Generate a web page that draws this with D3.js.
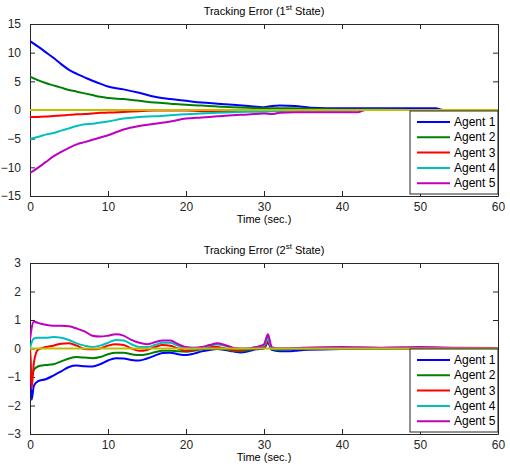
<!DOCTYPE html>
<html>
<head>
<meta charset="utf-8">
<script src="https://cdn.jsdelivr.net/npm/d3@7"></script>
<style>
  body { margin: 0; background: #fff; }
  svg { display: block; }
</style>
</head>
<body>
<div id="chart"></div>
<script>
// data
const agentNames = ["Agent 1", "Agent 2", "Agent 3", "Agent 4", "Agent 5"];
const xTicks = [0, 10, 20, 30, 40, 50, 60];
const yTicksTop = [-15, -10, -5, 0, 5, 10, 15];
const yTicksBottom = [-3, -2, -1, 0, 1, 2, 3];

// 1st state
const tTop = [0, 1, 2, 3, 4, 5, 6, 7, 8, 9, 10, 12, 14, 16, 18, 20, 22, 24, 26, 28, 30, 31, 32, 34, 36, 40, 42, 43, 45, 50, 52, 53, 55, 60];
const agent1Top = [12, 11.1, 10.1, 9.1, 8.0, 7.0, 6.3, 5.7, 5.1, 4.6, 4.1, 3.6, 3.0, 2.3, 1.9, 1.6, 1.3, 1.1, 0.9, 0.7, 0.5, 0.7, 0.8, 0.7, 0.4, 0.3, 0.3, 0.3, 0.3, 0.3, 0.3, 0, 0, 0];
const agent2Top = [5.8, 5.2, 4.7, 4.3, 3.9, 3.5, 3.2, 2.9, 2.6, 2.3, 2.1, 1.9, 1.6, 1.3, 1.1, 0.9, 0.8, 0.6, 0.5, 0.4, 0.3, 0.3, 0.3, 0.3, 0.2, 0.1, 0.1, 0.1, 0.1, 0, 0, 0, 0, 0];
const agent3Top = [-1.2, -1.2, -1.15, -1.05, -0.95, -0.85, -0.75, -0.7, -0.6, -0.5, -0.45, -0.35, -0.2, -0.1, -0.1, -0.1, -0.2, -0.2, -0.2, -0.15, -0.1, -0.05, 0, 0, 0, 0, 0, 0, 0, 0, 0, 0, 0, 0];
const agent4Top = [-5.0, -4.7, -4.3, -4.0, -3.6, -3.2, -2.8, -2.5, -2.4, -2.2, -2.0, -1.5, -1.2, -1.1, -0.9, -0.75, -0.6, -0.5, -0.4, -0.3, -0.3, -0.2, -0.2, -0.1, -0.1, -0.1, -0.05, 0, 0, 0, 0, 0, 0, 0];
const agent5Top = [-11, -10.1, -9.1, -8.1, -7.3, -6.6, -6.0, -5.6, -5.2, -4.8, -4.4, -3.4, -2.8, -2.4, -2.0, -1.5, -1.3, -1.1, -0.9, -0.8, -0.6, -0.7, -0.5, -0.4, -0.4, -0.4, -0.4, 0, 0, 0, 0, 0, 0, 0];

// 2nd state
const tBottom = [0, 0.2, 0.5, 1, 2, 3, 4, 5, 6, 7, 8, 9, 10, 11, 12, 13, 14, 15, 16, 17, 18, 19, 20, 21, 22, 23, 24, 25, 26, 27, 28, 29, 30, 30.5, 31, 32, 33, 34, 35, 40, 45, 50, 55, 60];
const agent1Bottom = [0, -1.8, -1.3, -1.15, -1.08, -0.95, -0.8, -0.65, -0.6, -0.62, -0.63, -0.55, -0.42, -0.34, -0.35, -0.4, -0.42, -0.35, -0.25, -0.16, -0.15, -0.2, -0.23, -0.18, -0.1, -0.05, -0.02, -0.05, -0.1, -0.14, -0.1, -0.03, 0, 0.2, -0.05, -0.1, -0.1, -0.08, -0.05, -0.02, 0, 0, 0, 0];
const agent2Bottom = [0, -1.0, -0.75, -0.63, -0.58, -0.55, -0.45, -0.35, -0.3, -0.32, -0.34, -0.3, -0.2, -0.15, -0.15, -0.2, -0.23, -0.2, -0.13, -0.08, -0.08, -0.1, -0.11, -0.08, -0.03, 0, 0, -0.03, -0.08, -0.1, -0.05, 0, 0.02, 0.4, -0.02, -0.05, -0.03, -0.02, 0, 0, 0, 0, 0, 0];
const agent3Bottom = [0, -1.4, -0.5, -0.05, 0.05, 0.1, 0.17, 0.18, 0.1, -0.02, -0.03, 0, 0.1, 0.15, 0.12, 0, -0.08, -0.05, 0.05, 0.12, 0.1, 0, -0.08, -0.05, 0, 0.05, 0.05, 0, -0.05, -0.06, -0.02, 0.02, 0.05, 0.25, -0.02, 0, 0, 0, 0, 0, 0, 0, 0, 0];
const agent4Bottom = [0, 0.2, 0.35, 0.38, 0.38, 0.4, 0.38, 0.3, 0.18, 0.1, 0.05, 0.1, 0.2, 0.3, 0.28, 0.15, 0.05, 0.05, 0.12, 0.2, 0.2, 0.1, 0, -0.02, 0.03, 0.1, 0.14, 0.1, 0.02, -0.02, 0, 0.05, 0.1, 0.35, 0, -0.02, 0, 0, 0, 0, 0, 0, 0, 0];
const agent5Bottom = [0.3, 0.7, 0.95, 0.9, 0.83, 0.8, 0.8, 0.78, 0.7, 0.6, 0.45, 0.42, 0.45, 0.5, 0.45, 0.3, 0.2, 0.15, 0.22, 0.28, 0.28, 0.15, 0.05, 0.03, 0.05, 0.12, 0.18, 0.12, 0.03, 0, 0, 0.05, 0.15, 0.5, 0.05, 0, 0, 0.02, 0.03, 0.05, 0.03, 0.05, 0.03, 0.02];

const agentColors = ["#0000ff", "#008000", "#ff0000", "#00bfbf", "#bf00bf"];
const refColor = "#bfbf00";

const W = 510, H = 466;
const svg = d3.select("#chart").append("svg")
    .attr("width", W)
    .attr("height", H)
    .attr("style", "font-family: 'Liberation Sans', Arial, sans-serif;");

function drawPanel(cfg) {
    const x = d3.scaleLinear().domain([0, 60]).range([cfg.left, cfg.right]);
    const y = d3.scaleLinear().domain(cfg.yDomain).range([cfg.bottom, cfg.top]);
    const fmt = d3.format("d");

    const g = svg.append("g");

    g.append("clipPath").attr("id", cfg.id + "-clip")
      .append("rect")
        .attr("x", cfg.left).attr("y", cfg.top)
        .attr("width", cfg.right - cfg.left).attr("height", cfg.bottom - cfg.top);

    // axes: ticks point inward, box on all four sides
    const axisStyle = sel => {
        sel.attr("font-family", null);
        sel.select(".domain").attr("stroke", "#262626");
        sel.selectAll(".tick line").attr("stroke", "#262626");
        sel.selectAll(".tick text").attr("fill", "#262626").style("font-size", "12px");
    };

    g.append("g")
        .attr("transform", `translate(0,${cfg.bottom})`)
        .call(d3.axisBottom(x).tickValues(xTicks).tickFormat(fmt).tickSizeInner(-5).tickSizeOuter(0).tickPadding(6))
        .call(axisStyle);

    g.append("g")
        .attr("transform", `translate(0,${cfg.top})`)
        .call(d3.axisTop(x).tickValues(xTicks).tickSizeInner(-5).tickSizeOuter(0).tickFormat(""))
        .call(axisStyle);

    g.append("g")
        .attr("transform", `translate(${cfg.left},0)`)
        .call(d3.axisLeft(y).tickValues(cfg.yTicks).tickFormat(fmt).tickSizeInner(-5).tickSizeOuter(0).tickPadding(9))
        .call(axisStyle);

    g.append("g")
        .attr("transform", `translate(${cfg.right},0)`)
        .call(d3.axisRight(y).tickValues(cfg.yTicks).tickSizeInner(-5).tickSizeOuter(0).tickFormat(""))
        .call(axisStyle);

    const line = d3.line()
        .x(d => x(d[0]))
        .y(d => y(d[1]))
        .curve(d3.curveMonotoneX);

    const lines = g.append("g").attr("clip-path", `url(#${cfg.id}-clip)`);

    cfg.series.forEach((vals, i) => {
        lines.append("path")
            .datum(cfg.t.map((t, j) => [t, vals[j]]))
            .attr("fill", "none")
            .attr("stroke", agentColors[i])
            .attr("stroke-width", 2)
            .attr("stroke-linejoin", "round")
            .attr("d", line);
    });

    // reference (zero) line, drawn on top
    lines.append("path")
        .datum([[0, 0], [60, 0]])
        .attr("fill", "none")
        .attr("stroke", refColor)
        .attr("stroke-width", 2)
        .attr("d", line);

    // title with superscript
    const title = g.append("text")
        .attr("x", (cfg.left + cfg.right) / 2)
        .attr("y", cfg.top - 9)
        .attr("text-anchor", "middle")
        .attr("fill", "#000")
        .style("font-size", "11px");
    title.append("tspan").text(`Tracking Error (${cfg.num}`);
    title.append("tspan").text("st").attr("dy", -5).style("font-size", "8px");
    title.append("tspan").text(" State)").attr("dy", 5);

    g.append("text")
        .attr("x", (cfg.left + cfg.right) / 2)
        .attr("y", cfg.bottom + 27)
        .attr("text-anchor", "middle")
        .attr("fill", "#000")
        .style("font-size", "11px")
        .text("Time (sec.)");

    // legend
    const lg = g.append("g").attr("transform", `translate(410,${cfg.legendTop})`);
    lg.append("rect")
        .attr("width", 88).attr("height", 83)
        .attr("fill", "#fff").attr("stroke", "#262626");
    agentNames.forEach((name, i) => {
        const ly = 11 + i * 15.3;
        lg.append("line")
            .attr("x1", 7).attr("x2", 40)
            .attr("y1", ly).attr("y2", ly)
            .attr("stroke", agentColors[i]).attr("stroke-width", 2);
        lg.append("text")
            .attr("x", 44).attr("y", ly + 4)
            .attr("fill", "#000")
            .style("font-size", "12px")
            .text(name);
    });
}

drawPanel({
    id: "top", num: 1,
    left: 30, right: 498, top: 24, bottom: 196,
    yDomain: [-15, 15], yTicks: yTicksTop,
    t: tTop,
    series: [agent1Top, agent2Top, agent3Top, agent4Top, agent5Top],
    legendTop: 111
});

drawPanel({
    id: "bottom", num: 2,
    left: 30, right: 498, top: 263, bottom: 434,
    yDomain: [-3, 3], yTicks: yTicksBottom,
    t: tBottom,
    series: [agent1Bottom, agent2Bottom, agent3Bottom, agent4Bottom, agent5Bottom],
    legendTop: 349
});
</script>
</body>
</html>
